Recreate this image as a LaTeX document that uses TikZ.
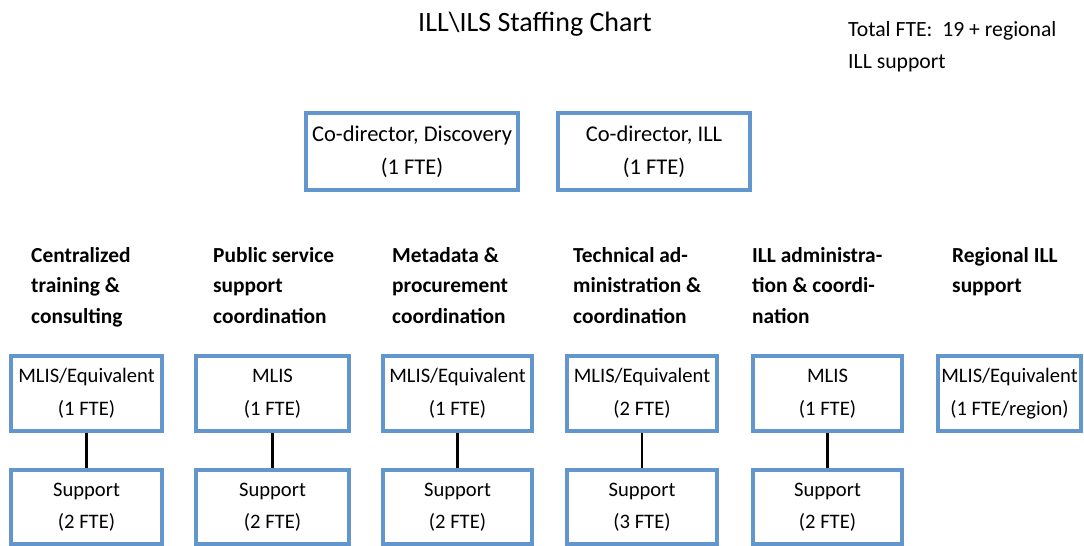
\documentclass[tikz,border=0pt]{standalone}
\usepackage{fontspec}
\setmainfont{Carlito}
\definecolor{boxblue}{RGB}{98,150,204}
\begin{document}
\begin{tikzpicture}[x=1pt,y=-1pt,
  staff/.style={draw=boxblue, line width=3.6pt, rectangle, inner sep=0pt,
    align=center, font=\fontsize{20.6}{32.5}\selectfont, text=black},
  upper/.style={staff, minimum width=#1, minimum height=75pt},
  lower/.style={staff, minimum width=#1, minimum height=74pt},
  chief/.style={staff, minimum width=#1, minimum height=77pt,
    font=\fontsize{22.5}{32.5}\selectfont},
  % the base anchor of a multi-line node sits on its last line
  head/.style={anchor=base west, align=left, inner sep=0pt,
    font=\fontsize{21.4}{30.5}\selectfont\bfseries},
  link/.style={line width=2.6pt, black}]
\useasboundingbox (0,0) rectangle (1084,546);

% title and total
\node[anchor=base, inner sep=0pt, font=\fontsize{28}{34}\selectfont] (title) at (535,31)
  {ILL\textbackslash ILS Staffing Chart};
\node[anchor=base west, align=left, inner sep=0pt, font=\fontsize{21.7}{32}\selectfont] (total) at (848,68)
  {Total FTE:~~19 + regional\\ILL support};

% co-directors
\node[chief=212pt] (cod) at (412,151.5) {Co-director, Discovery\\(1 FTE)};
\node[chief=192pt] (coi) at (654,151.5) {Co-director, ILL\\(1 FTE)};

% unit headings (last-line baselines)
\node[head] (h1) at (31,323)  {Centralized\\training \&\\consulting};
\node[head] (h2) at (213,323) {Public service\\support\\coordination};
\node[head] (h3) at (392,323) {Metadata \&\\procurement\\coordination};
\node[head] (h4) at (573,323) {Technical ad-\\ministration \&\\coordination};
\node[head] (h5) at (752,323) {ILL administra-\\tion \& coordi-\\nation};
\node[head] (h6) at (952,292.5) {Regional ILL\\support};

% professional staff
\node[upper=151pt] (m1) at (86.5,393.5)  {MLIS/Equivalent\\(1 FTE)};
\node[upper=153pt] (m2) at (272.5,393.5) {MLIS\\(1 FTE)};
\node[upper=149pt] (m3) at (457.5,393.5) {MLIS/Equivalent\\(1 FTE)};
\node[upper=150pt] (m4) at (642,393.5)   {MLIS/Equivalent\\(2 FTE)};
\node[upper=149pt] (m5) at (827.5,393.5) {MLIS\\(1 FTE)};
\node[upper=143pt] (m6) at (1009.5,393.5) {MLIS/Equivalent\\(1 FTE/region)};

% support staff
\node[lower=151pt] (s1) at (86.5,507)  {Support\\(2 FTE)};
\node[lower=153pt] (s2) at (272.5,507) {Support\\(2 FTE)};
\node[lower=149pt] (s3) at (457.5,507) {Support\\(2 FTE)};
\node[lower=150pt] (s4) at (642,507)   {Support\\(3 FTE)};
\node[lower=149pt] (s5) at (827.5,507) {Support\\(2 FTE)};

% reporting lines
\foreach \i in {1,...,5} \draw[link] (m\i.south) -- (s\i.north);
\end{tikzpicture}
\end{document}
